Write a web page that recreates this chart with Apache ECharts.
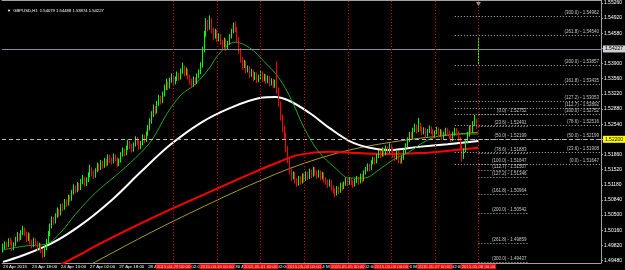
<!DOCTYPE html>
<html>
<head>
<meta charset="utf-8">
<title>GBPUSD,H1</title>
<script src="https://cdn.jsdelivr.net/npm/echarts@6/dist/echarts.min.js"></script>
<style>
  html, body { margin: 0; padding: 0; background: #000; }
  #chart { width: 625px; height: 270px; }
</style>
</head>
<body>
<div id="chart"></div>
<script>
// GBPUSD H1, 23 Apr 2015 02:00 .. 8 May 2015 00:00 (broker time)
// each bar: [open, close, low, high]
const bars = [
  // 23 Apr
  [1.4972,1.4978,1.4966,1.4986],[1.4978,1.4985,1.4974,1.4991],[1.4985,1.4981,1.4975,1.4990],[1.4981,1.4992,1.4978,1.4998],
  [1.4992,1.4988,1.4982,1.4999],[1.4988,1.4976,1.4970,1.4993],[1.4976,1.4983,1.4971,1.4989],[1.4983,1.4995,1.4980,1.5001],
  [1.4995,1.5004,1.4990,1.5012],[1.5004,1.4998,1.4991,1.5009],[1.4998,1.5010,1.4994,1.5016],[1.5010,1.5018,1.5005,1.5026],
  [1.5018,1.5009,1.5003,1.5022],[1.5009,1.4996,1.4990,1.5013],[1.4996,1.5005,1.4992,1.5011],[1.5005,1.4990,1.4984,1.5009],
  [1.4990,1.4982,1.4975,1.4995],[1.4982,1.4994,1.4978,1.4999],[1.4994,1.4987,1.4980,1.4998],[1.4987,1.4975,1.4969,1.4991],
  [1.4975,1.4983,1.4971,1.4988],[1.4983,1.4970,1.4965,1.4986],
  // 24 Apr
  [1.4970,1.4962,1.4953,1.4974],[1.4962,1.4975,1.4956,1.4980],[1.4975,1.4990,1.4971,1.4996],[1.4990,1.5008,1.4986,1.5014],
  [1.5008,1.5025,1.5003,1.5031],[1.5025,1.5040,1.5020,1.5047],[1.5040,1.5035,1.5028,1.5046],[1.5035,1.5048,1.5031,1.5054],
  [1.5048,1.5060,1.5044,1.5067],[1.5060,1.5052,1.5046,1.5064],[1.5052,1.5070,1.5049,1.5075],[1.5070,1.5066,1.5059,1.5076],
  [1.5066,1.5080,1.5062,1.5086],[1.5080,1.5075,1.5068,1.5085],[1.5075,1.5090,1.5071,1.5096],[1.5090,1.5086,1.5080,1.5095],
  [1.5086,1.5100,1.5082,1.5106],[1.5100,1.5112,1.5096,1.5119],[1.5112,1.5105,1.5098,1.5116],[1.5105,1.5118,1.5101,1.5124],
  [1.5118,1.5110,1.5104,1.5122],[1.5110,1.5125,1.5106,1.5131],[1.5125,1.5132,1.5119,1.5140],[1.5132,1.5120,1.5114,1.5136],
  // 27 Apr
  [1.5120,1.5128,1.5115,1.5134],[1.5128,1.5140,1.5124,1.5146],[1.5140,1.5152,1.5135,1.5163],[1.5152,1.5145,1.5138,1.5157],
  [1.5145,1.5138,1.5131,1.5150],[1.5138,1.5150,1.5134,1.5155],[1.5150,1.5162,1.5146,1.5168],[1.5162,1.5155,1.5149,1.5166],
  [1.5155,1.5168,1.5151,1.5174],[1.5168,1.5160,1.5154,1.5172],[1.5160,1.5172,1.5156,1.5178],[1.5172,1.5165,1.5159,1.5176],
  [1.5165,1.5180,1.5161,1.5186],[1.5180,1.5174,1.5167,1.5185],[1.5174,1.5170,1.5163,1.5179],[1.5170,1.5182,1.5166,1.5188],
  [1.5182,1.5176,1.5170,1.5186],[1.5176,1.5165,1.5158,1.5180],[1.5165,1.5172,1.5160,1.5177],[1.5172,1.5186,1.5168,1.5191],
  [1.5186,1.5195,1.5181,1.5202],[1.5195,1.5188,1.5182,1.5199],[1.5188,1.5200,1.5184,1.5206],[1.5200,1.5212,1.5196,1.5219],
  // 28 Apr
  [1.5212,1.5205,1.5198,1.5216],[1.5205,1.5196,1.5190,1.5210],[1.5196,1.5208,1.5192,1.5213],[1.5208,1.5220,1.5204,1.5227],
  [1.5220,1.5214,1.5207,1.5225],[1.5214,1.5202,1.5196,1.5218],[1.5202,1.5210,1.5198,1.5216],[1.5210,1.5225,1.5206,1.5231],
  [1.5225,1.5218,1.5211,1.5230],[1.5218,1.5232,1.5214,1.5238],[1.5232,1.5245,1.5228,1.5252],[1.5245,1.5260,1.5240,1.5267],
  [1.5260,1.5275,1.5255,1.5283],[1.5275,1.5290,1.5270,1.5298],[1.5290,1.5282,1.5274,1.5295],[1.5282,1.5300,1.5278,1.5306],
  [1.5300,1.5312,1.5295,1.5320],[1.5312,1.5305,1.5298,1.5318],[1.5305,1.5320,1.5301,1.5327],[1.5320,1.5335,1.5316,1.5343],
  [1.5335,1.5345,1.5330,1.5356],[1.5345,1.5338,1.5330,1.5350],[1.5338,1.5352,1.5334,1.5358],[1.5352,1.5360,1.5347,1.5368],
  // 29 Apr
  [1.5360,1.5348,1.5342,1.5364],[1.5348,1.5355,1.5343,1.5361],[1.5355,1.5365,1.5351,1.5372],[1.5365,1.5358,1.5352,1.5369],
  [1.5358,1.5372,1.5354,1.5379],[1.5372,1.5380,1.5367,1.5392],[1.5380,1.5368,1.5362,1.5385],[1.5368,1.5375,1.5363,1.5381],
  [1.5375,1.5360,1.5354,1.5378],[1.5360,1.5350,1.5343,1.5365],[1.5350,1.5342,1.5335,1.5356],[1.5342,1.5355,1.5338,1.5361],
  [1.5355,1.5348,1.5341,1.5359],[1.5348,1.5362,1.5344,1.5368],[1.5362,1.5370,1.5357,1.5377],[1.5370,1.5385,1.5366,1.5393],
  [1.5385,1.5420,1.5381,1.5428],[1.5420,1.5455,1.5415,1.5463],[1.5455,1.5480,1.5450,1.5492],[1.5480,1.5470,1.5462,1.5488],
  [1.5470,1.5488,1.5466,1.5498],[1.5488,1.5465,1.5458,1.5492],[1.5465,1.5450,1.5443,1.5470],[1.5450,1.5462,1.5446,1.5468],
  // 30 Apr
  [1.5462,1.5445,1.5438,1.5466],[1.5445,1.5452,1.5440,1.5458],[1.5452,1.5438,1.5432,1.5456],[1.5438,1.5430,1.5422,1.5443],
  [1.5430,1.5442,1.5426,1.5448],[1.5442,1.5425,1.5418,1.5446],[1.5425,1.5436,1.5421,1.5441],[1.5436,1.5450,1.5432,1.5456],
  [1.5450,1.5462,1.5446,1.5468],[1.5462,1.5475,1.5458,1.5482],[1.5475,1.5468,1.5460,1.5484],[1.5468,1.5445,1.5438,1.5472],
  [1.5445,1.5420,1.5412,1.5449],[1.5420,1.5400,1.5392,1.5425],[1.5400,1.5385,1.5376,1.5404],[1.5385,1.5392,1.5380,1.5398],
  [1.5392,1.5375,1.5368,1.5396],[1.5375,1.5380,1.5370,1.5386],[1.5380,1.5365,1.5358,1.5384],[1.5365,1.5372,1.5360,1.5378],
  [1.5372,1.5358,1.5351,1.5376],[1.5358,1.5366,1.5353,1.5371],[1.5366,1.5352,1.5346,1.5370],[1.5352,1.5360,1.5348,1.5365],
  // 1 May
  [1.5360,1.5368,1.5355,1.5374],[1.5368,1.5355,1.5349,1.5372],[1.5355,1.5362,1.5350,1.5367],[1.5362,1.5350,1.5344,1.5366],
  [1.5350,1.5358,1.5346,1.5363],[1.5358,1.5345,1.5339,1.5362],[1.5345,1.5352,1.5341,1.5357],[1.5352,1.5340,1.5334,1.5356],
  [1.5340,1.5348,1.5336,1.5354],[1.5348,1.5330,1.5322,1.5395],[1.5330,1.5300,1.5292,1.5336],[1.5300,1.5270,1.5262,1.5305],
  [1.5270,1.5245,1.5236,1.5276],[1.5245,1.5230,1.5221,1.5250],[1.5230,1.5200,1.5191,1.5234],[1.5200,1.5175,1.5166,1.5205],
  [1.5175,1.5150,1.5141,1.5180],[1.5150,1.5135,1.5126,1.5155],[1.5135,1.5142,1.5130,1.5148],[1.5142,1.5128,1.5121,1.5147],
  [1.5128,1.5120,1.5113,1.5133],[1.5120,1.5132,1.5116,1.5138],[1.5132,1.5125,1.5118,1.5137],[1.5125,1.5138,1.5121,1.5144],
  // 4 May
  [1.5138,1.5130,1.5123,1.5143],[1.5130,1.5142,1.5126,1.5148],[1.5142,1.5135,1.5128,1.5147],[1.5135,1.5148,1.5131,1.5154],
  [1.5148,1.5140,1.5133,1.5152],[1.5140,1.5152,1.5136,1.5158],[1.5152,1.5145,1.5138,1.5157],[1.5145,1.5138,1.5131,1.5150],
  [1.5138,1.5146,1.5134,1.5151],[1.5146,1.5135,1.5128,1.5150],[1.5135,1.5142,1.5130,1.5147],[1.5142,1.5130,1.5123,1.5146],
  [1.5130,1.5125,1.5118,1.5135],[1.5125,1.5118,1.5111,1.5130],[1.5118,1.5125,1.5114,1.5130],[1.5125,1.5112,1.5105,1.5129],
  [1.5112,1.5105,1.5098,1.5117],[1.5105,1.5098,1.5090,1.5110],[1.5098,1.5110,1.5094,1.5115],[1.5110,1.5104,1.5097,1.5114],
  [1.5104,1.5118,1.5100,1.5123],[1.5118,1.5112,1.5105,1.5122],[1.5112,1.5120,1.5108,1.5125],[1.5120,1.5128,1.5116,1.5134],
  // 5 May
  [1.5128,1.5122,1.5115,1.5132],[1.5122,1.5130,1.5118,1.5135],[1.5130,1.5124,1.5117,1.5134],[1.5124,1.5118,1.5111,1.5128],
  [1.5118,1.5126,1.5114,1.5131],[1.5126,1.5132,1.5122,1.5138],[1.5132,1.5125,1.5118,1.5136],[1.5125,1.5138,1.5121,1.5143],
  [1.5138,1.5130,1.5123,1.5142],[1.5130,1.5145,1.5126,1.5150],[1.5145,1.5152,1.5141,1.5158],[1.5152,1.5160,1.5148,1.5166],
  [1.5160,1.5155,1.5148,1.5165],[1.5155,1.5168,1.5151,1.5173],[1.5168,1.5175,1.5164,1.5181],[1.5175,1.5170,1.5163,1.5180],
  [1.5170,1.5182,1.5166,1.5187],[1.5182,1.5190,1.5178,1.5196],[1.5190,1.5185,1.5178,1.5195],[1.5185,1.5196,1.5181,1.5202],
  [1.5196,1.5188,1.5181,1.5200],[1.5188,1.5200,1.5184,1.5206],[1.5200,1.5192,1.5185,1.5204],[1.5192,1.5205,1.5188,1.5211],
  // 6 May
  [1.5205,1.5198,1.5191,1.5209],[1.5198,1.5185,1.5178,1.5202],[1.5185,1.5178,1.5171,1.5190],[1.5178,1.5190,1.5174,1.5195],
  [1.5190,1.5172,1.5166,1.5194],[1.5172,1.5168,1.5165,1.5178],[1.5168,1.5178,1.5166,1.5183],[1.5178,1.5192,1.5174,1.5197],
  [1.5192,1.5205,1.5188,1.5211],[1.5205,1.5218,1.5201,1.5224],[1.5218,1.5230,1.5214,1.5237],[1.5230,1.5225,1.5218,1.5236],
  [1.5225,1.5240,1.5221,1.5246],[1.5240,1.5248,1.5236,1.5255],[1.5248,1.5240,1.5233,1.5253],[1.5240,1.5252,1.5236,1.5268],
  [1.5252,1.5245,1.5238,1.5257],[1.5245,1.5236,1.5229,1.5249],[1.5236,1.5242,1.5231,1.5247],[1.5242,1.5230,1.5224,1.5246],
  [1.5230,1.5238,1.5226,1.5243],[1.5238,1.5245,1.5234,1.5251],[1.5245,1.5238,1.5231,1.5249],[1.5238,1.5228,1.5222,1.5242],
  // 7 May
  [1.5228,1.5235,1.5224,1.5240],[1.5235,1.5242,1.5231,1.5248],[1.5242,1.5230,1.5224,1.5246],[1.5230,1.5238,1.5226,1.5243],
  [1.5238,1.5225,1.5218,1.5242],[1.5225,1.5232,1.5221,1.5237],[1.5232,1.5240,1.5228,1.5246],[1.5240,1.5235,1.5228,1.5245],
  [1.5235,1.5228,1.5221,1.5239],[1.5228,1.5220,1.5213,1.5232],[1.5220,1.5232,1.5216,1.5237],[1.5232,1.5240,1.5228,1.5246],
  [1.5240,1.5235,1.5228,1.5245],[1.5235,1.5222,1.5215,1.5239],[1.5222,1.5205,1.5197,1.5226],[1.5205,1.5180,1.5170,1.5209],
  [1.5180,1.5195,1.5176,1.5200],[1.5195,1.5215,1.5191,1.5221],[1.5215,1.5230,1.5211,1.5236],[1.5230,1.5245,1.5226,1.5251],
  [1.5245,1.5238,1.5231,1.5250],[1.5238,1.5255,1.5234,1.5261],[1.5255,1.5262,1.5250,1.5275],[1.5262,1.5250,1.5243,1.5266],
  // 8 May 00:00
  [1.54079,1.54227,1.53874,1.54488]
];
const emptySlots = 67;            // chart shift: blank bars right of the last one

// bottom time scale labels (bar index, text)
const timeLabels = [
  [0,'23 Apr 2015'],[16,'23 Apr 18:00'],[32,'24 Apr 10:00'],[48,'27 Apr 02:00'],[64,'27 Apr 18:00'],
  [80,'28 Apr 10:00'],[96,'29 Apr 02:00'],[112,'29 Apr 18:00'],[128,'30 Apr 10:00'],[144,'1 May 02:00'],
  [160,'1 May 18:00'],[176,'4 May 10:00'],[192,'5 May 02:00'],[208,'5 May 18:00'],[224,'6 May 10:00'],
  [240,'7 May 02:00'],[256,'7 May 18:00']
];
// red vertical lines (bar index, text in the red box)
const dayLines = [
  [94,'2015.04.29 00:00'],[118,'2015.04.30 00:00'],[142,'2015.05.01 00:00'],[166,'2015.05.04 00:00'],
  [190,'2015.05.05 00:00'],[214,'2015.05.06 00:00'],[238,'2015.05.07 00:00'],[262,'2015.05.08 00:00']
];
const priceTicks = [1.49480,1.49820,1.50160,1.50500,1.50840,1.51180,1.51520,1.51860,1.52200,
  1.52540,1.52880,1.53220,1.53560,1.53900,1.54240,1.54580,1.54920,1.55260];
const priceMin = 1.49424, priceMax = 1.55326;

const bidPrice = 1.54227;
const levelPrice = 1.52200;
const headerText = 'GBPUSD,H1  1.54079 1.54488 1.53874 1.54227';

// fibonacci tools drawn on the 6-7 May swing
const fibHigh = 1.52752, fibLow = 1.51647;
const fibLevels = [0, 23.6, 50, 78.6, 100, 112.7, 127.2, 161.8, 200, 261.8, 300];
const fibUpBars = [249, 329];     // expansion upwards from the low
const fibDownBars = [262, 289];   // expansion downwards from the high

// moving averages: [bar index, price]
const maWhite = [[0,1.4945],[10,1.4958],[27,1.4987],[43,1.5028],[60,1.5084],[76,1.5147],[92,1.5207],
  [109,1.5257],[125,1.5290],[142,1.5313],[150,1.5315],[158,1.5306],[169,1.5279],[180,1.5245],[191,1.5216],
  [202,1.5201],[213,1.5196],[229,1.5203],[245,1.5209],[262,1.5216]];
const maRed = [[21,1.4916],[40,1.4956],[54,1.4987],[82,1.5043],[109,1.5093],[136,1.5142],[152,1.5169],
  [163,1.5185],[180,1.5192],[196,1.5189],[213,1.5187],[229,1.5189],[245,1.5194],[262,1.5201]];
const maOlive = [[38,1.4916],[51,1.4945],[82,1.5012],[109,1.5066],[136,1.5117],[163,1.5162],[191,1.5196],
  [218,1.5216],[240,1.5227],[262,1.5236]];
const maGreen = [[0,1.4972],[13,1.4981],[24,1.4985],[32,1.5012],[40,1.5052],[51,1.5100],[62,1.5138],
  [73,1.5178],[82,1.5218],[90,1.5275],[98,1.5319],[106,1.5344],[113,1.5376],[120,1.5416],[128,1.5438],
  [136,1.5425],[144,1.5394],[152,1.5358],[159,1.5308],[166,1.5245],[174,1.5192],[183,1.5156],[191,1.5133],
  [199,1.5133],[207,1.5151],[215,1.5174],[224,1.5192],[232,1.5214],[240,1.5227],[251,1.5232],[262,1.5232]];

const font = 'Liberation Sans';
const cats = Array.from({ length: bars.length + emptySlots }, (_, i) => String(i));
const timeMap = new Map(timeLabels);
const dayMap = new Map(dayLines);

// fib segments for markLine
function fibLines (from, to, up) {
  const range = fibHigh - fibLow;
  return fibLevels.map(lv => {
    const p = up ? fibLow + lv / 100 * range : fibHigh - lv / 100 * range;
    return [
      { coord: [from, p], lineStyle: { color: '#b4b4b4', type: [1, 2], width: 1 } },
      {
        coord: [to, p],
        label: {
          show: true, position: 'insideEndTop', distance: 1,
          formatter: '(' + lv.toFixed(1) + ') - ' + p.toFixed(5),
          color: '#c8c8c8', fontSize: 4.5, fontFamily: font
        }
      }
    ]
  })
}

// vertical red lines + fib tools sit on the candles
const candleMarks = []
dayLines.forEach(d => candleMarks.push({ xAxis: d[0], lineStyle: { color: '#e00000', type: [1, 2], width: 1 } }))
fibLines(fibUpBars[0], fibUpBars[1], true).forEach(s => candleMarks.push(s))
fibLines(fibDownBars[0], fibDownBars[1], false).forEach(s => candleMarks.push(s))

// horizontal price lines
const priceMarks = [
  {
    yAxis: levelPrice,
    lineStyle: { color: '#c0c0c0', type: [4, 3], width: 1 },
    label: { show: true, position: 'end', distance: 2, formatter: levelPrice.toFixed(5),
      backgroundColor: '#ffff00', color: '#000', fontSize: 5, fontFamily: font, padding: [1, 2] }
  },
  {
    yAxis: bidPrice,
    lineStyle: { color: '#8090a0', type: 'solid', width: 1 },
    label: { show: true, position: 'end', distance: 2, formatter: bidPrice.toFixed(5),
      backgroundColor: '#d0d0d0', color: '#000', fontSize: 5, fontFamily: font, padding: [1, 2] }
  }
]

function maSeries (name, data, color, width) {
  return {
    name: name, type: 'line', data: data, showSymbol: false, smooth: 0.35,
    lineStyle: { color: color, width: width }, silent: true, z: 3
  }
}

const whiteSeries = maSeries('white', maWhite, '#ffffff', 2)
// precision keeps the 5-digit price, the default of 2 would round the line to 1.54 / 1.52
whiteSeries.markLine = { silent: true, symbol: 'none', precision: 5, animation: false, label: { show: false }, data: priceMarks }

const chart = echarts.init(document.getElementById('chart'))
chart.setOption({
  backgroundColor: '#000',
  animation: false,
  title: {
    text: '{t|▼}  ' + headerText,
    left: 2, top: 4,
    textStyle: {
      color: '#fff', fontSize: 4.2, fontWeight: 'normal', fontFamily: font,
      rich: { t: { color: '#fff', fontSize: 4 } }
    }
  },
  grid: { left: 0, right: 21, top: 0, bottom: 7 },
  xAxis: [
    {
      type: 'category', data: cats, boundaryGap: true,
      axisLine: { lineStyle: { color: '#a0a0a0' } },
      axisTick: { interval: i => timeMap.has(i), alignWithLabel: true, length: 2, lineStyle: { color: '#a0a0a0' } },
      axisLabel: {
        interval: i => timeMap.has(i), formatter: (v, i) => timeMap.get(i),
        color: '#fff', fontSize: 4.4, fontFamily: font, align: 'left', margin: 2
      },
      splitLine: { show: false }
    },
    {
      type: 'category', data: cats, position: 'bottom', z: 10,
      axisLine: { show: false }, axisTick: { show: false }, splitLine: { show: false },
      axisLabel: {
        interval: i => dayMap.has(i), formatter: (v, i) => dayMap.get(i),
        color: '#ffd0d0', backgroundColor: '#ff0000', padding: [1, 1, 0, 1],
        fontSize: 4.3, fontFamily: font, align: 'center', margin: 1
      }
    },
    {
      type: 'category', data: cats, position: 'top',
      axisLine: { lineStyle: { color: '#a0a0a0' } }, axisTick: { show: false },
      axisLabel: { show: false }, splitLine: { show: false }
    }
  ],
  yAxis: {
    type: 'value', position: 'right', min: priceMin, max: priceMax,
    splitLine: { show: false },
    axisLine: { show: true, lineStyle: { color: '#a0a0a0' } },
    axisTick: { show: true, customValues: priceTicks, length: 2, lineStyle: { color: '#a0a0a0' } },
    axisLabel: {
      customValues: priceTicks, formatter: v => v.toFixed(5),
      color: '#fff', fontSize: 5, fontFamily: font, margin: 3
    }
  },
  series: [
    maSeries('olive', maOlive, '#a99a2a', 1),
    maSeries('red', maRed, '#ff0000', 2),
    whiteSeries,
    maSeries('green', maGreen, '#1ea81e', 1),
    {
      name: 'GBPUSD', type: 'candlestick', data: bars, barWidth: 1, z: 4,
      itemStyle: {
        color: '#00ff00', color0: '#ff0000',
        borderColor: '#00ff00', borderColor0: '#ff0000', borderWidth: 1
      },
      markLine: { silent: true, symbol: 'none', precision: 5, animation: false, label: { show: false }, data: candleMarks },
      markPoint: {
        silent: true,
        data: [{ coord: [bars.length - 1, priceMax], symbol: 'triangle', symbolRotate: 180,
          symbolSize: [5, 4], symbolOffset: [0, 4], itemStyle: { color: '#909090' }, label: { show: false } }]
      }
    }
  ]
})
</script>
</body>
</html>
